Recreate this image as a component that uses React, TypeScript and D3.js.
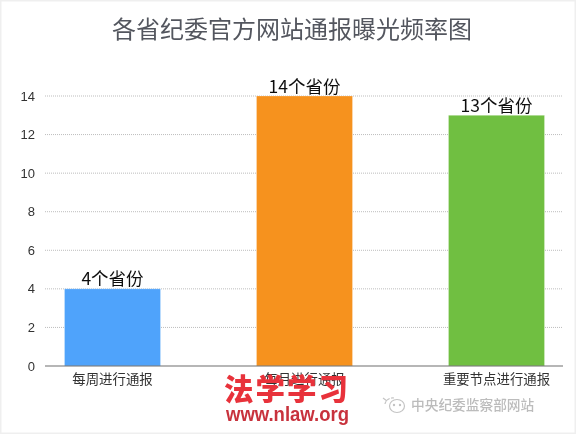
import React from "react";
import * as d3 from "d3";

const title = "各省纪委官方网站通报曝光频率图";
const categories = ["每周进行通报", "每月进行通报", "重要节点进行通报"];
const values = [4, 14, 13];
const valueLabels = ["4个省份", "14个省份", "13个省份"];
const barColors = ["#4fa3fb", "#f6921e", "#70bf41"];
const yTicks = [0, 2, 4, 6, 8, 10, 12, 14];
const W = 576, H = 434;
const font = "'Noto Sans CJK SC', 'Liberation Sans', sans-serif";
const latin = "'Liberation Sans', 'Noto Sans CJK SC', sans-serif";

export default function App() {
  const y = d3.scaleLinear().domain([0, 14]).range([366, 96]);
  const x = d3.scaleBand<string>().domain(categories).range([16.5, 592.5]).paddingInner(0.5).paddingOuter(0.25);
  return (
    <svg width={W} height={H} viewBox={`0 0 ${W} ${H}`} style={{ position: "fixed", left: 0, top: 0, background: "#fff" }}>
      <defs>
        <filter id="soft" x="-5%" y="-5%" width="110%" height="110%"><feGaussianBlur stdDeviation="0.35" /></filter>
      </defs>
      <rect x={0.5} y={0.5} width={W - 1} height={H - 1} fill="#fff" stroke="#efefef" strokeWidth={2} />
      <text x={292} y={38} textAnchor="middle" fontFamily={font} fontSize={24} fill="#53565e" filter="url(#soft)">{title}</text>
      {yTicks.filter(t => t > 0).map(t => (
        <line key={t} x1={45} x2={563} y1={y(t)} y2={y(t)} stroke="#bdbdbd" strokeWidth={1} strokeDasharray="1 1" />
      ))}
      {yTicks.map(t => (
        <text key={t} x={35} y={y(t) + 4.5} textAnchor="end" fontFamily={latin} fontSize={13} fill="#333" filter="url(#soft)">{t}</text>
      ))}
      {categories.map((c, i) => (
        <rect key={c} x={x(c)} y={y(values[i])} width={x.bandwidth()} height={y(0) - y(values[i])} fill={barColors[i]} stroke="#fff" strokeOpacity={0.3} strokeWidth={0.8} />
      ))}
      <line x1={45} x2={563} y1={y(0)} y2={y(0)} stroke="#6e6e6e" strokeWidth={1.2} />
      {categories.map((c, i) => (
        <text key={c} x={x(c)! + x.bandwidth() / 2} y={y(values[i]) - 3.5} textAnchor="middle" fontFamily={font} fontSize={17.5} fill="#111" filter="url(#soft)">{valueLabels[i]}</text>
      ))}
      {categories.map(c => (
        <text key={c} x={x(c)! + x.bandwidth() / 2} y={384} textAnchor="middle" fontFamily={font} fontSize={13.4} fill="#333" filter="url(#soft)">{c}</text>
      ))}
      <text x={224} y={400} fontFamily={font} fontSize={29.5} letterSpacing={2} fontWeight={900} fill="#e8323a" filter="url(#soft)">法学学习</text>
      <text x={226} y={421} fontFamily={latin} fontSize={20} fontWeight={700} fill="#c8323c" textLength={123} lengthAdjust="spacingAndGlyphs" filter="url(#soft)">www.nlaw.org</text>
      <g fill="none" stroke="#c4c4c4" strokeWidth={1.2} filter="url(#soft)">
        <path d="M385 404 a8 7 0 0 1 9-6" strokeDasharray="3 1.5" />
        <ellipse cx={397} cy={406} rx={7.5} ry={6.5} />
        <path d="M383 398 l4 3" />
        <circle cx={394} cy={405} r={0.6} />
        <circle cx={400} cy={405} r={0.6} />
      </g>
      <text x={411} y={410} fontFamily={font} fontSize={13.7} fontWeight={500} fill="#bcbcbc" filter="url(#soft)">中央纪委监察部网站</text>
    </svg>
  );
}
